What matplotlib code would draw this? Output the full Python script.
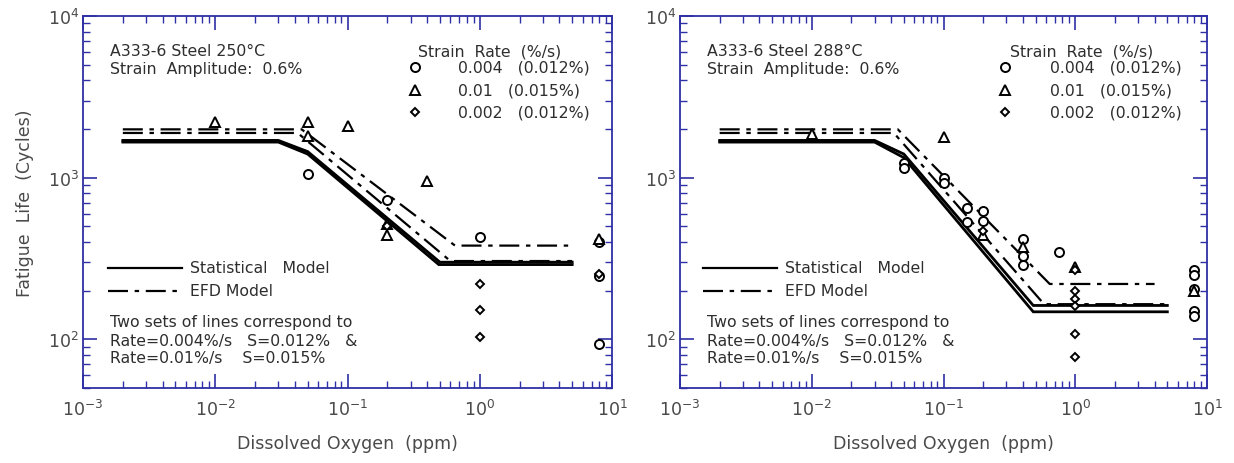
import numpy as np
import matplotlib
matplotlib.use("Agg")
import matplotlib.pyplot as plt
from matplotlib.ticker import LogLocator, NullFormatter
from matplotlib.lines import Line2D

plt.rcParams['font.family'] = ['DejaVu Sans']
plt.rcParams['mathtext.fontset'] = 'dejavusans'

# ---------------- data ----------------
# Left panel (250 C)
L_circ_x = [0.05, 0.2, 1.0, 8.0, 8.0, 8.0]
L_circ_y = [1060, 730, 430, 400, 245, 93]
L_tri_x = [0.01, 0.05, 0.05, 0.1, 0.4, 0.2, 0.2, 8.0]
L_tri_y = [2200, 2200, 1800, 2100, 960, 520, 445, 420]
L_dia_x = [0.2, 1.0, 1.0, 1.0, 8.0]
L_dia_y = [500, 220, 152, 103, 255]

L_stat1_x = [0.002, 0.03, 0.05, 0.5, 5.0]
L_stat1_y = [1700, 1700, 1450, 300, 300]
L_stat2_x = [0.002, 0.03, 0.05, 0.49, 5.0]
L_stat2_y = [1660, 1660, 1400, 290, 290]
L_efd1_x = [0.002, 0.045, 0.65, 5.0]
L_efd1_y = [1990, 1990, 380, 380]
L_efd2_x = [0.002, 0.042, 0.6, 5.0]
L_efd2_y = [1890, 1890, 305, 305]

# Right panel (288 C)
R_circ_x = [0.05, 0.05, 0.1, 0.1, 0.15, 0.15, 0.2, 0.2, 0.4, 0.4, 0.4, 0.75,
            8.0, 8.0, 8.0, 8.0, 8.0]
R_circ_y = [1230, 1140, 1000, 930, 650, 530, 620, 540, 420, 330, 290, 345,
            270, 250, 205, 150, 140]
R_tri_x = [0.01, 0.1, 0.2, 0.4, 1.0, 8.0]
R_tri_y = [1850, 1780, 440, 370, 280, 200]
R_dia_x = [0.2, 1.0, 1.0, 1.0, 1.0, 1.0, 1.0]
R_dia_y = [470, 270, 200, 178, 160, 108, 78]

R_stat1_x = [0.002, 0.03, 0.05, 0.48, 5.0]
R_stat1_y = [1700, 1700, 1400, 162, 162]
R_stat2_x = [0.002, 0.03, 0.05, 0.48, 5.0]
R_stat2_y = [1660, 1660, 1330, 148, 148]
R_efd1_x = [0.002, 0.045, 0.64, 4.0]
R_efd1_y = [1990, 1990, 220, 220]
R_efd2_x = [0.002, 0.042, 0.58, 5.0]
R_efd2_y = [1890, 1890, 165, 165]

legend_rates = ['0.004   (0.012%)', '0.01   (0.015%)', '0.002   (0.012%)']
titles = ['A333-6 Steel 250°C', 'A333-6 Steel 288°C']

# ---------------- figure ----------------
fig = plt.figure(figsize=(12.34, 4.64), dpi=100)
axL = fig.add_axes([83/1234, 1-389/464, 529/1234, 372/464])
axR = fig.add_axes([680/1234, 1-389/464, 527/1234, 372/464])

spine_c = '#2f2fa6'
txt_c = '#2e2e2e'
lab_c = '#4a4a4a'
efd_dash = (0, (9, 3, 2, 3))
FS = 11.3

def style(ax):
    ax.set_xscale('log')
    ax.set_yscale('log')
    ax.set_xlim(1e-3, 10)
    ax.set_ylim(50, 1e4)
    for s in ax.spines.values():
        s.set_color(spine_c)
        s.set_linewidth(1.3)
    ax.xaxis.set_major_locator(LogLocator(base=10, numticks=10))
    ax.yaxis.set_major_locator(LogLocator(base=10, numticks=10))
    ax.xaxis.set_minor_locator(LogLocator(base=10, subs=np.arange(2, 10), numticks=20))
    ax.yaxis.set_minor_locator(LogLocator(base=10, subs=np.arange(2, 10), numticks=20))
    ax.xaxis.set_minor_formatter(NullFormatter())
    ax.yaxis.set_minor_formatter(NullFormatter())
    ax.tick_params(which='both', direction='in', top=True, right=True,
                   color=spine_c, labelcolor=lab_c, labelsize=12.5)
    ax.tick_params(which='major', length=10, width=1.2)
    ax.tick_params(which='minor', length=5, width=1.0)
    ax.tick_params(axis='x', which='major', pad=8)
    ax.tick_params(axis='y', which='major', pad=3)
    ax.set_xlabel('Dissolved Oxygen  (ppm)', fontsize=12.5, color=lab_c, labelpad=11)

def panel(ax, title, cx, cy, tx, ty, dx, dy, s1, s2, e1, e2, fx, lx0, lx1, ltx):
    style(ax)
    ax.plot(s1[0], s1[1], color='black', lw=2.0, solid_joinstyle='miter')
    ax.plot(s2[0], s2[1], color='black', lw=2.0, solid_joinstyle='miter')
    ax.plot(e1[0], e1[1], color='black', lw=1.6, linestyle=efd_dash)
    ax.plot(e2[0], e2[1], color='black', lw=1.6, linestyle=efd_dash)
    mk = dict(linestyle='none', mfc='white', mec='black', mew=1.4, zorder=5)
    ax.plot(cx, cy, marker='o', ms=6.5, **mk)
    ax.plot(tx, ty, marker='^', ms=7, **mk)
    ax.plot(dx, dy, marker='D', ms=4.5, **mk)

    T = ax.transAxes
    tk = dict(transform=T, fontsize=FS, color=txt_c, va='center', ha='left')
    ax.text(fx[0], 0.906, title, **tk)
    ax.text(fx[0], 0.860, 'Strain  Amplitude:  0.6%', **tk)
    ax.text(fx[1], 0.906, 'Strain  Rate  (%/s)', **tk)
    rows = [0.862, 0.801, 0.742]
    mks = [('o', 6.5), ('^', 7), ('D', 4.5)]
    for (m, ms), yy, lab in zip(mks, rows, legend_rates):
        ax.plot([fx[2]], [yy], marker=m, ms=ms, transform=T, clip_on=False, **mk)
        ax.text(fx[3], yy, lab, **tk)
    ax.add_line(Line2D([lx0, lx1], [0.323, 0.323], transform=T, color='black', lw=1.6))
    ax.add_line(Line2D([lx0, lx1], [0.261, 0.261], transform=T, color='black', lw=1.6,
                       linestyle=efd_dash))
    ax.text(ltx, 0.323, 'Statistical   Model', **tk)
    ax.text(ltx, 0.261, 'EFD Model', **tk)
    ax.text(fx[0], 0.180, 'Two sets of lines correspond to', **tk)
    ax.text(fx[0], 0.129, 'Rate=0.004%/s   S=0.012%   &', **tk)
    ax.text(fx[0], 0.083, 'Rate=0.01%/s    S=0.015%', **tk)

panel(axL, titles[0], L_circ_x, L_circ_y, L_tri_x, L_tri_y, L_dia_x, L_dia_y,
      (L_stat1_x, L_stat1_y), (L_stat2_x, L_stat2_y),
      (L_efd1_x, L_efd1_y), (L_efd2_x, L_efd2_y),
      [0.051, 0.633, 0.628, 0.709], 0.047, 0.187, 0.202)
panel(axR, titles[1], R_circ_x, R_circ_y, R_tri_x, R_tri_y, R_dia_x, R_dia_y,
      (R_stat1_x, R_stat1_y), (R_stat2_x, R_stat2_y),
      (R_efd1_x, R_efd1_y), (R_efd2_x, R_efd2_y),
      [0.051, 0.626, 0.617, 0.702], 0.044, 0.184, 0.199)

axL.set_ylabel('Fatigue  Life  (Cycles)', fontsize=12.5, color=lab_c, labelpad=10)

fig.savefig('out.png', dpi=100)
